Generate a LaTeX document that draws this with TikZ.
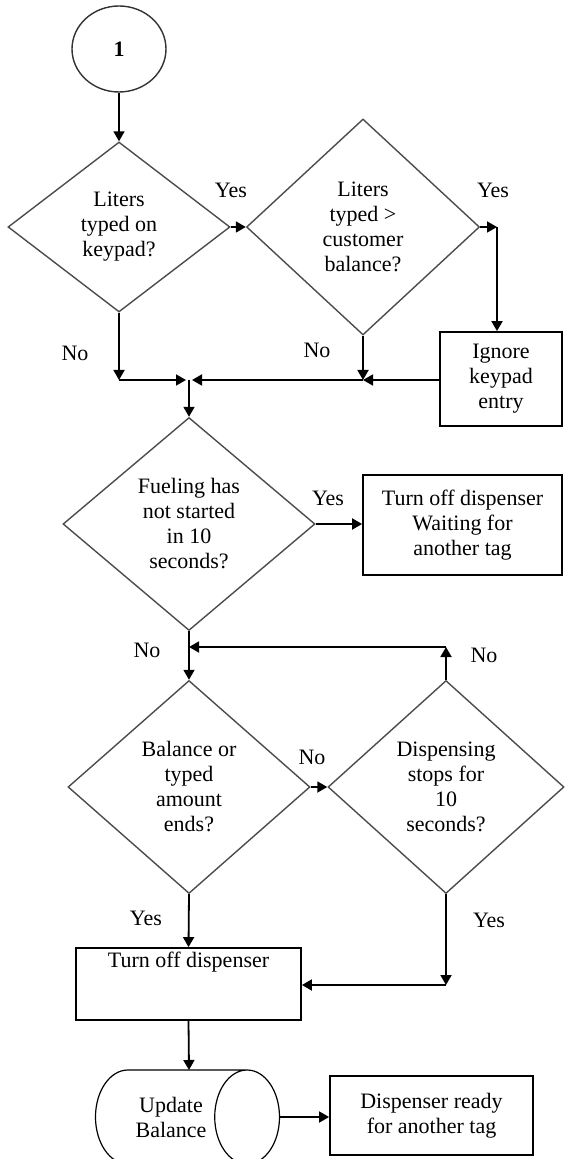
\documentclass[tikz,border=0pt]{standalone}
\usepackage{fontspec}
\setmainfont{Liberation Serif}
\usetikzlibrary{shapes.geometric,arrows.meta}

\begin{document}
\begin{tikzpicture}[
                x=0.5pt, y=-0.5pt,
                decision/.style={
                    draw=black!70,
                    line width=0.7pt,
                    diamond,
                    inner sep=0pt,
                    align=center,
                    font=\rmfamily\fontsize{11}{12.5}\selectfont
                },
                process/.style={
                    draw=black,
                    line width=0.9pt,
                    rectangle,
                    inner sep=0pt,
                    align=center,
                    font=\rmfamily\fontsize{11}{12.5}\selectfont
                },
                store/.style={
                    draw=black,
                    line width=0.6pt,
                    cylinder,
                    aspect=1.6,
                    inner sep=0pt,
                    align=center,
                    font=\rmfamily\fontsize{11}{12.5}\selectfont
                },
                lbl/.style={
                    inner sep=0pt,
                    font=\rmfamily\fontsize{11}{12.5}\selectfont
                },
                flow/.style={
                    -{Triangle[length=5pt,width=5.5pt]},
                    line width=0.9pt
                }
            ]
                \useasboundingbox (0,0) rectangle (564,1159);

                \node[ellipse, draw=black!80, line width=0.7pt, minimum width=47pt, minimum height=43pt,
                      font=\rmfamily\fontsize{11}{12.5}\selectfont\bfseries] (conn1) at (119,49) {1};

                \node[decision, minimum width=111pt, minimum height=85pt] (decKeypad) at (119,227) {Liters\\typed on\\keypad?};
                \node[decision, minimum width=116.5pt, minimum height=108pt] (decBalance) at (363,227) {Liters\\typed >\\customer\\balance?};
                \node[process, minimum width=61pt, minimum height=47pt] (boxIgnore) at (501,379) {Ignore\\keypad\\entry};

                \node[decision, minimum width=126pt, minimum height=106.5pt] (decStart) at (189,524) {Fueling has\\not started\\in 10\\seconds?};
                \node[process, minimum width=99.5pt, minimum height=50pt] (boxWait) at (462.5,525) {Turn off dispenser\\Waiting for\\another tag};

                \node[decision, minimum width=121pt, minimum height=106.5pt] (decEnds) at (189,787) {Balance or\\typed\\amount\\ends?};
                \node[decision, minimum width=118pt, minimum height=106.5pt] (decStop) at (446,787) {Dispensing\\stops for\\10\\seconds?};

                \node[process, minimum width=112.5pt, minimum height=36pt] (boxOff) at (188.5,984) {Turn off dispenser\\[12pt]};
                \node[store, minimum height=92pt, minimum width=47pt] (dbUpdate) at (171,1117) {Update\\Balance};
                \node[process, minimum width=101.5pt, minimum height=39.5pt] (boxReady) at (431.5,1115.5) {Dispenser ready\\for another tag};

                % branch labels
                \node[lbl] (yes1) at (231,190) {Yes};
                \node[lbl] (yes2) at (493,190) {Yes};
                \node[lbl] (no1) at (75,353) {No};
                \node[lbl] (no2) at (317,350) {No};
                \node[lbl] (yes3) at (328,498) {Yes};
                \node[lbl] (no3) at (147,650) {No};
                \node[lbl] (no4) at (484,655) {No};
                \node[lbl] (no5) at (312,757) {No};
                \node[lbl] (yes4) at (146,918) {Yes};
                \node[lbl] (yes5) at (489,920) {Yes};

                % junction points
                \coordinate (cA) at (119,380);
                \coordinate (jM) at (189,380);
                \coordinate (cB) at (363,380);
                \coordinate (cY) at (497,227);
                \coordinate (cS) at (446,647);
                \coordinate (cT) at (189,647);
                \coordinate (cU) at (446,985);
                \coordinate (cV) at (189,1070);

                \draw[flow] (conn1) -- (decKeypad);
                \draw[flow] (decKeypad.east) -- (decBalance.west);
                \draw[flow] (decBalance.east) -- (cY);
                \draw[flow] (cY) -- (cY |- boxIgnore.north);
                \draw[flow] (decKeypad.south) -- (cA);
                \draw[flow, shorten >=1.5pt] (cA) -- (jM);
                \draw[flow] (decBalance.south) -- (cB);
                \draw[flow] (boxIgnore.west |- cB) -- (cB);
                \draw[flow, shorten >=1.5pt] (cB) -- (jM);
                \draw[flow] (jM) -- (decStart.north);
                \draw[flow] (decStart.east) -- (decStart.east -| boxWait.west);
                \draw[flow] (decStart.south) -- (decEnds.north);
                \draw[flow] (decStop.north) -- (cS);
                \draw[flow] (cS) -- (cT);
                \draw[flow] (decEnds.east) -- (decStop.west);
                \draw[flow] (decEnds.south) -- (boxOff.north);
                \draw[flow] (decStop.south) -- (cU);
                \draw[flow] (cU) -- (boxOff.east |- cU);
                \draw[flow] (boxOff.south) -- (cV);
                \draw[flow] (dbUpdate.east) -- (dbUpdate.east -| boxReady.west);
        \end{tikzpicture}
\end{document}
